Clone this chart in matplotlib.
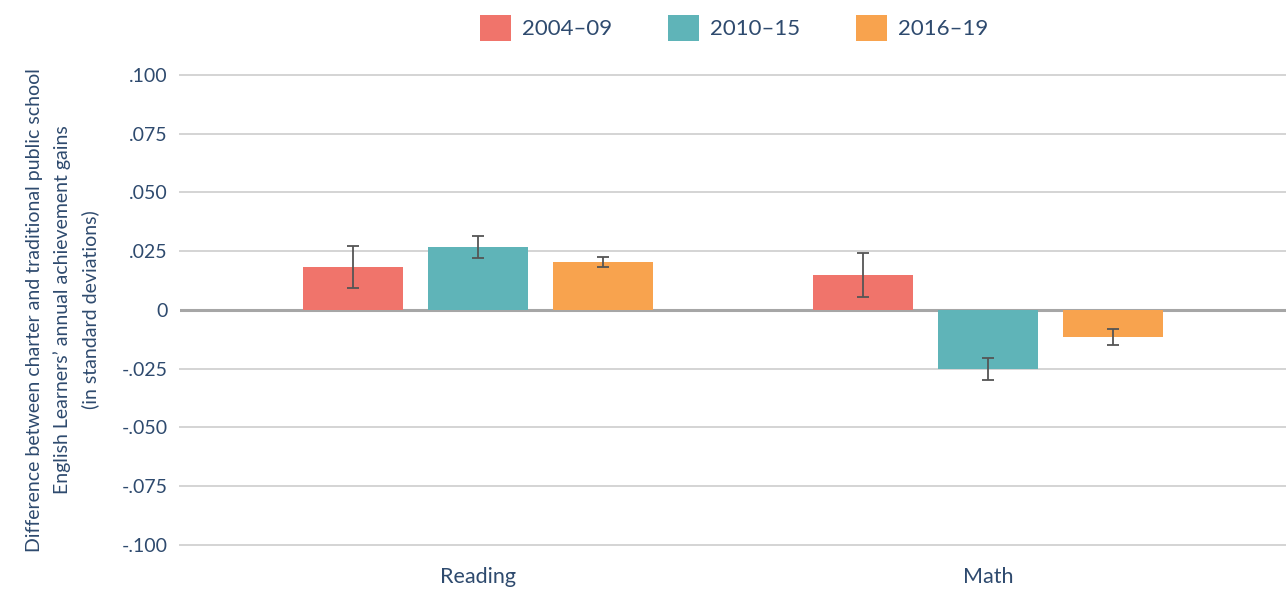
import numpy as np
import matplotlib.pyplot as plt
from matplotlib.patches import Patch

categories = ['Reading', 'Math']
periods = ['2004\u201309', '2010\u201315', '2016\u201319']
values = {
    '2004\u201309': [0.0183, 0.0149],
    '2010\u201315': [0.0268, -0.0251],
    '2016\u201319': [0.0204, -0.0115],
}
errors = {
    '2004\u201309': [0.0090, 0.0092],
    '2010\u201315': [0.0045, 0.0048],
    '2016\u201319': [0.0023, 0.0036],
}
colors = ['#F0746B', '#5FB4B8', '#F8A34E']
yticks = [0.1, 0.075, 0.05, 0.025, 0, -0.025, -0.05, -0.075, -0.1]
ytick_labels = ['.100', '.075', '.050', '.025', '0', '-.025', '-.050', '-.075', '-.100']

text_col = '#2E4A6E'
plt.rcParams['font.family'] = ['Lato', 'DejaVu Sans']

fig = plt.figure(figsize=(12.86, 5.9), dpi=100)
ax = fig.add_axes([0.14, 0.0763, 0.86, 0.7966])

x = np.arange(len(categories))
width = 0.196
offset = 0.245
for i, p in enumerate(periods):
    ax.bar(x + (i - 1) * offset, values[p], width, color=colors[i], zorder=3,
           yerr=errors[p], error_kw=dict(ecolor='#555555', elinewidth=1.3,
                                         capsize=4.5, capthick=1.3, zorder=4))

ax.set_xlim(-0.584, 1.584)
ax.set_ylim(-0.1, 0.1)
ax.set_yticks(yticks)
ax.set_yticklabels(ytick_labels)
ax.set_xticks(x)
ax.set_xticklabels(categories)
ax.tick_params(axis='y', length=0, pad=9, labelsize=14, labelcolor=text_col)
ax.tick_params(axis='x', length=0, pad=16, labelsize=15.5, labelcolor=text_col)

for y in yticks:
    if y == 0:
        ax.axhline(y, color='#A6A6A6', lw=2.2, zorder=2)
    else:
        ax.axhline(y, color='#D4D4D4', lw=1.4, zorder=1, clip_on=False)

for s in ax.spines.values():
    s.set_visible(False)

ax.set_ylabel("Difference between charter and traditional public school\n"
              "English Learners\u2019 annual achievement gains\n"
              "(in standard deviations)",
              fontsize=14, color=text_col, linespacing=1.7, labelpad=16)

handles = [Patch(facecolor=c, edgecolor='none') for c in colors]
fig.legend(handles, periods, loc='center', bbox_to_anchor=(0.571, 0.953), ncol=3,
           frameon=False, fontsize=16, labelcolor=text_col, handlelength=1.4,
           handleheight=1.4, handletextpad=0.5, columnspacing=2.5)

fig.savefig('out.png', dpi=100)
